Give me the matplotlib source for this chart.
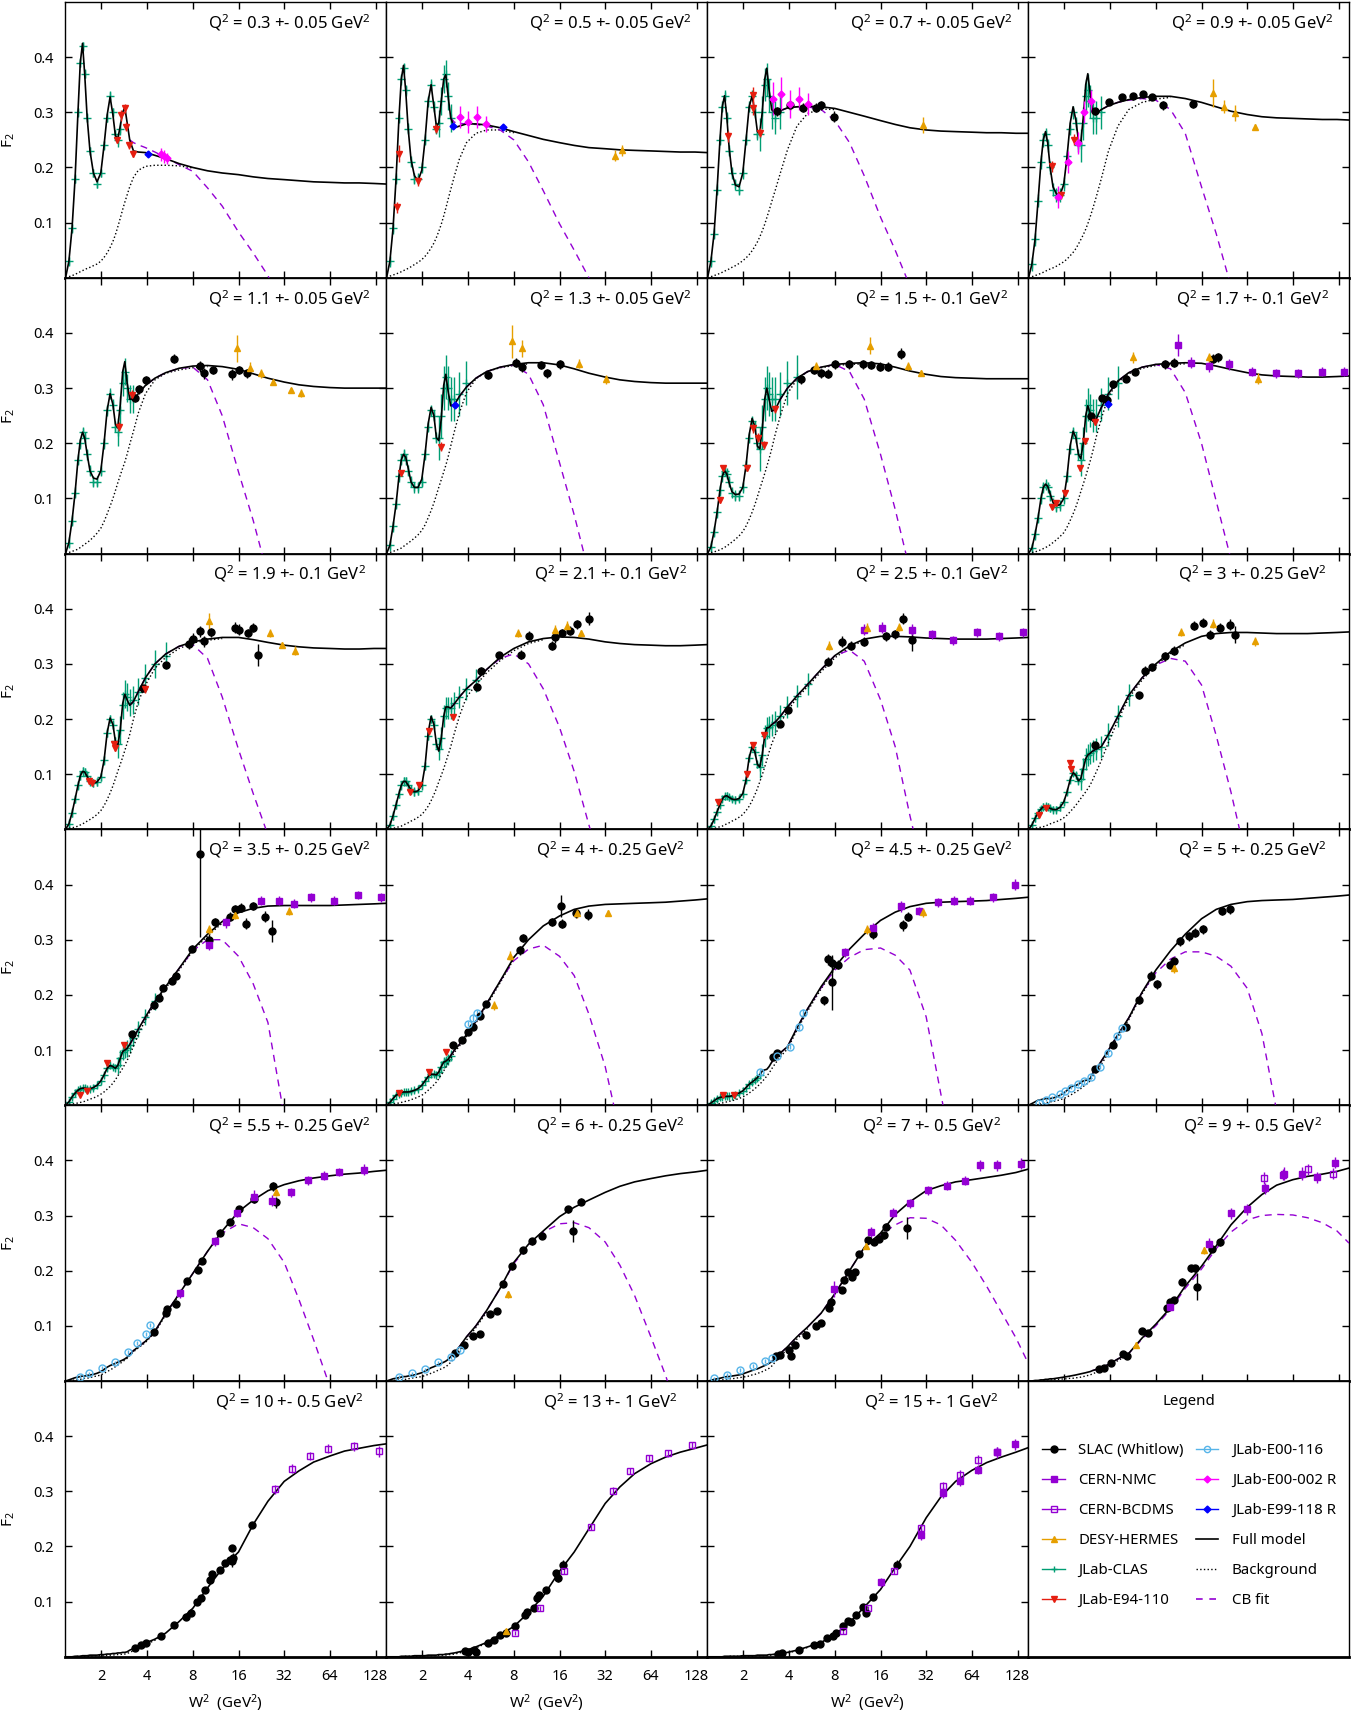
import matplotlib
matplotlib.use("Agg")
import matplotlib.pyplot as plt
from matplotlib.lines import Line2D
from matplotlib.ticker import NullLocator

plt.rcParams['font.family'] = ['Noto Sans', 'DejaVu Sans']
plt.rcParams['mathtext.fontset'] = 'custom'
plt.rcParams['mathtext.rm'] = 'Noto Sans'
plt.rcParams['mathtext.it'] = 'Noto Sans:italic'

# ---------------------------------------------------------------- data
q2_labels = ["0.3 +- 0.05", "0.5 +- 0.05", "0.7 +- 0.05", "0.9 +- 0.05",
             "1.1 +- 0.05", "1.3 +- 0.05", "1.5 +- 0.1", "1.7 +- 0.1",
             "1.9 +- 0.1", "2.1 +- 0.1", "2.5 +- 0.1", "3 +- 0.25",
             "3.5 +- 0.25", "4 +- 0.25", "4.5 +- 0.25", "5 +- 0.25",
             "5.5 +- 0.25", "6 +- 0.25", "7 +- 0.5", "9 +- 0.5",
             "10 +- 0.5", "13 +- 1", "15 +- 1"]

w2_grid = [1.16, 1.22, 1.28, 1.34, 1.40, 1.45, 1.50, 1.55, 1.61, 1.68, 1.77, 1.87,
           1.98, 2.08, 2.18, 2.28, 2.38, 2.47, 2.56, 2.66, 2.76, 2.85, 2.95, 3.07,
           3.25, 3.5, 3.9, 4.5, 5.3, 6.5, 8, 10, 12.5, 16, 20, 25, 32, 40, 50,
           64, 80, 100, 125, 150]

# full model F2 on w2_grid, one row per panel
model_f2 = [
    [0, .030, .090, .180, .300, .390, .425, .370, .290, .230, .190, .174, .190, .240, .295, .328, .295, .258, .252, .275, .300, .309, .282, .250, .230, .228, .227, .222, .216, .207, .200, .194, .190, .187, .183, .180, .178, .176, .174, .173, .172, .172, .171, .170],
    [0, .030, .090, .180, .290, .360, .385, .340, .270, .215, .185, .176, .195, .250, .320, .350, .310, .275, .280, .320, .360, .368, .330, .290, .272, .275, .279, .279, .277, .272, .265, .258, .251, .245, .240, .236, .234, .232, .231, .230, .229, .228, .228, .227],
    [0, .030, .080, .160, .250, .310, .330, .295, .235, .190, .168, .165, .190, .250, .310, .330, .300, .265, .262, .300, .360, .380, .340, .305, .298, .303, .308, .310, .311, .310, .307, .300, .293, .285, .278, .272, .268, .266, .265, .264, .263, .263, .262, .262],
    [0, .025, .070, .140, .210, .250, .265, .245, .200, .165, .152, .150, .170, .220, .280, .310, .285, .250, .245, .290, .350, .370, .335, .300, .298, .305, .312, .318, .323, .327, .329, .329, .325, .318, .310, .302, .296, .292, .290, .289, .288, .287, .287, .286],
    [0, .020, .060, .110, .170, .205, .220, .210, .180, .150, .137, .135, .150, .200, .260, .290, .270, .235, .228, .270, .330, .348, .310, .280, .280, .290, .305, .318, .328, .336, .340, .341, .339, .334, .326, .318, .311, .306, .303, .301, .300, .300, .300, .300],
    [0, .015, .050, .090, .140, .170, .180, .175, .155, .130, .120, .120, .135, .180, .235, .265, .250, .210, .205, .245, .305, .325, .295, .268, .270, .285, .302, .318, .330, .338, .343, .346, .346, .342, .335, .327, .320, .315, .312, .310, .309, .309, .309, .309],
    [0, .012, .040, .075, .115, .140, .150, .145, .128, .112, .107, .108, .120, .160, .215, .245, .230, .195, .190, .225, .280, .300, .280, .258, .262, .280, .300, .318, .330, .338, .343, .345, .346, .344, .338, .331, .325, .321, .319, .318, .317, .317, .317, .317],
    [0, .010, .035, .065, .100, .120, .126, .122, .108, .093, .087, .089, .100, .140, .195, .222, .210, .180, .172, .200, .250, .268, .255, .240, .245, .265, .290, .313, .328, .338, .343, .345, .346, .345, .340, .334, .328, .324, .322, .321, .320, .320, .321, .322],
    [0, .010, .030, .055, .080, .097, .105, .104, .096, .087, .084, .086, .095, .125, .175, .202, .190, .160, .152, .180, .228, .245, .235, .225, .232, .250, .275, .300, .318, .332, .340, .345, .348, .348, .344, .339, .334, .331, .329, .328, .327, .327, .328, .328],
    [0, .008, .025, .045, .065, .080, .087, .087, .080, .072, .068, .070, .080, .115, .175, .205, .190, .155, .142, .165, .205, .222, .222, .220, .228, .240, .255, .270, .290, .312, .328, .340, .346, .349, .348, .345, .340, .337, .335, .334, .333, .333, .334, .335],
    [0, .006, .018, .032, .045, .055, .060, .061, .058, .055, .054, .056, .065, .090, .130, .150, .140, .118, .113, .135, .170, .184, .185, .190, .195, .205, .222, .242, .263, .290, .315, .333, .345, .350, .350, .349, .347, .346, .345, .345, .345, .346, .347, .348],
    [0, .008, .020, .030, .037, .041, .042, .041, .038, .036, .036, .040, .050, .068, .090, .103, .098, .088, .092, .110, .128, .135, .138, .142, .146, .150, .172, .205, .243, .275, .300, .322, .338, .350, .355, .357, .357, .356, .355, .355, .355, .356, .357, .358],
    [0, .006, .015, .022, .027, .030, .031, .031, .030, .030, .032, .036, .044, .055, .067, .072, .070, .067, .072, .085, .097, .100, .103, .110, .122, .138, .160, .188, .215, .248, .283, .310, .333, .349, .357, .361, .362, .362, .362, .362, .363, .364, .365, .366],
    [0, .005, .012, .018, .021, .023, .024, .024, .024, .025, .027, .030, .036, .044, .052, .056, .056, .055, .060, .070, .078, .080, .083, .090, .100, .110, .128, .152, .184, .225, .268, .300, .325, .343, .355, .361, .364, .365, .366, .367, .368, .370, .372, .374],
    [0, .004, .008, .012, .014, .015, .016, .016, .016, .017, .019, .022, .026, .032, .038, .042, .046, .050, .055, .062, .064, .065, .070, .078, .087, .095, .106, .140, .175, .215, .250, .283, .310, .335, .350, .360, .366, .368, .369, .370, .371, .373, .375, .377],
    [0, .003, .006, .009, .010, .011, .012, .012, .012, .013, .015, .018, .022, .027, .032, .035, .036, .038, .041, .044, .045, .046, .048, .058, .066, .080, .100, .128, .158, .205, .245, .280, .310, .338, .355, .364, .369, .371, .372, .373, .375, .377, .379, .381],
    [0, .002, .004, .006, .007, .008, .009, .009, .010, .011, .012, .014, .017, .021, .025, .028, .030, .032, .034, .036, .038, .040, .043, .048, .055, .062, .072, .090, .122, .158, .195, .235, .272, .307, .328, .345, .356, .363, .368, .372, .375, .377, .380, .382],
    [0, .002, .004, .005, .006, .007, .008, .008, .009, .010, .011, .013, .015, .018, .021, .024, .026, .028, .030, .032, .034, .036, .039, .044, .051, .062, .080, .100, .128, .168, .215, .248, .272, .298, .315, .328, .342, .353, .361, .367, .372, .376, .379, .382],
    [0, .001, .003, .004, .005, .006, .007, .008, .008, .009, .010, .011, .013, .015, .017, .019, .021, .022, .024, .026, .028, .030, .032, .035, .042, .050, .062, .080, .098, .123, .158, .200, .242, .268, .302, .325, .345, .354, .361, .365, .369, .373, .378, .384],
    [0, 0, .001, .001, .002, .002, .003, .003, .004, .004, .005, .006, .007, .008, .009, .010, .011, .012, .013, .014, .015, .016, .017, .019, .021, .024, .030, .040, .050, .078, .103, .133, .172, .208, .245, .283, .315, .338, .355, .365, .371, .375, .380, .386],
    [0, 0, 0, .001, .001, .001, .002, .002, .002, .003, .003, .003, .004, .004, .005, .005, .006, .006, .007, .007, .008, .008, .009, .012, .015, .018, .025, .032, .043, .064, .088, .125, .160, .190, .240, .282, .318, .337, .353, .364, .373, .378, .383, .386],
    [0, 0, 0, 0, 0, .001, .001, .001, .001, .001, .002, .002, .002, .002, .003, .003, .003, .003, .004, .004, .004, .005, .005, .006, .007, .009, .012, .018, .026, .040, .055, .080, .110, .155, .190, .232, .278, .308, .332, .350, .362, .371, .378, .384],
    [0, 0, 0, 0, 0, 0, .001, .001, .001, .001, .001, .001, .002, .002, .002, .002, .002, .003, .003, .003, .003, .003, .004, .004, .005, .006, .008, .012, .018, .026, .040, .062, .090, .122, .162, .200, .252, .290, .318, .338, .352, .362, .371, .379],
]

# background on w2_grid, up to where it runs under the full model
bkg_f2 = [
    [0, .002, .004, .006, .009, .011, .013, .015, .017, .019, .022, .025, .030, .037, .045, .055, .066, .078, .092, .108, .124, .137, .150, .165, .182, .195, .202, .204, .204, .203, .199],
    [0, .003, .005, .007, .009, .011, .013, .015, .017, .020, .024, .028, .033, .039, .046, .054, .063, .073, .084, .097, .112, .126, .142, .160, .185, .215, .245, .262, .268, .268, .263],
    [0, .002, .004, .006, .008, .010, .012, .014, .016, .019, .022, .026, .031, .036, .042, .049, .057, .065, .074, .085, .097, .109, .122, .138, .160, .190, .232, .275, .298, .306, .305],
    [0, .002, .004, .006, .008, .010, .012, .014, .016, .018, .021, .025, .029, .034, .040, .046, .053, .061, .069, .078, .088, .098, .110, .125, .148, .180, .230, .275, .305, .318, .324, .327],
    [0, .002, .004, .006, .008, .011, .014, .017, .020, .024, .030, .037, .046, .058, .072, .086, .100, .114, .128, .142, .155, .166, .180, .198, .222, .255, .290, .315, .327, .333, .337, .339],
    [0, .002, .004, .006, .008, .010, .013, .016, .019, .023, .028, .034, .042, .052, .065, .078, .092, .106, .120, .134, .148, .160, .175, .195, .222, .255, .292, .317, .330, .337, .341, .344],
    [0, .002, .003, .005, .007, .009, .011, .014, .017, .021, .026, .032, .040, .050, .062, .075, .089, .103, .117, .131, .145, .158, .172, .190, .218, .250, .290, .316, .330, .337, .341, .343, .344],
    [0, .002, .003, .005, .007, .009, .011, .013, .016, .020, .025, .031, .038, .048, .060, .072, .085, .098, .112, .126, .140, .153, .167, .185, .213, .245, .285, .311, .326, .336, .341, .343, .344],
    [0, .002, .003, .004, .006, .008, .010, .012, .015, .018, .022, .027, .034, .043, .054, .066, .079, .092, .105, .118, .131, .143, .156, .172, .200, .232, .262, .292, .312, .328, .338, .343, .346],
    [0, .001, .002, .003, .005, .006, .008, .010, .012, .015, .018, .022, .027, .034, .042, .052, .063, .074, .086, .098, .110, .122, .135, .150, .175, .205, .240, .262, .284, .306, .324, .337, .344],
    [0, .001, .002, .003, .005, .006, .008, .010, .012, .015, .018, .022, .027, .034, .042, .052, .063, .074, .086, .099, .113, .126, .140, .155, .172, .192, .215, .238, .259, .286, .311, .330, .343],
    [0, .001, .002, .003, .004, .005, .006, .008, .010, .012, .014, .017, .021, .026, .032, .038, .044, .050, .056, .062, .068, .074, .080, .090, .105, .125, .158, .198, .238, .271, .297, .319, .335],
    [0, .001, .002, .003, .004, .005, .006, .007, .009, .011, .013, .016, .020, .024, .029, .034, .040, .046, .053, .060, .067, .074, .081, .091, .107, .128, .155, .185, .212, .245, .280, .307, .330],
    [0, .001, .002, .003, .004, .005, .006, .007, .008, .010, .012, .015, .018, .022, .027, .032, .037, .042, .048, .055, .062, .069, .076, .085, .096, .107, .125, .149, .181, .222, .265],
    [0, .001, .001, .002, .003, .004, .005, .006, .007, .008, .010, .012, .015, .018, .022, .026, .030, .034, .038, .043, .048, .053, .058, .066, .076, .088, .102, .136, .171, .211, .247],
    [0, .001, .001, .002, .003, .003, .004, .005, .006, .007, .008, .010, .012, .015, .018, .021, .024, .027, .030, .034, .037, .040, .044, .052, .060, .074, .095, .124, .155, .202, .242],
    [0, .001, .001, .002, .003, .003, .004, .005, .005, .006, .008, .009, .011, .014, .017, .020, .023, .026, .029, .032, .035, .038, .041, .046, .053, .060, .070, .088, .120, .156],
    [0, 0, .001, .001, .002, .002, .003, .003, .004, .005, .006, .007, .008, .010, .012, .014, .016, .018, .020, .022, .024, .026, .029, .034, .042, .055, .074, .097, .125],
    [0, 0, .001, .001, .002, .002, .003, .003, .004, .004, .005, .006, .007, .008, .009, .011, .012, .014, .015, .017, .019, .021, .023, .027, .035, .045, .058, .076, .095],
    [0, 0, 0, .001, .001, .001, .001, .002, .002, .002, .003, .003, .004, .004, .005, .005, .006, .006, .007, .008, .009, .010, .011, .013, .016, .020, .027, .037, .048],
    [0, 0, 0, 0, .001, .001, .001, .001, .001, .001, .002, .002, .002, .002, .003, .003, .003, .004, .004, .004, .005, .005, .006, .008, .011, .015, .022, .030, .042],
    [0, 0, 0, 0, 0, 0, 0, .001, .001, .001, .001, .001, .001, .002, .002, .002, .002, .002, .003, .003, .003, .003, .004, .004, .005, .007, .010, .016, .025],
    [0, 0, 0, 0, 0, 0, 0, 0, .001, .001, .001, .001, .001, .001, .001, .001, .002, .002, .002, .002, .002, .002, .003, .003, .004, .005, .007, .011, .017],
]

# CB fit on w2_grid from W^2 = 3.07 onward (ends where it leaves the frame)
cb_first = 23
cb_f2 = [
    [.250, .245, .241, .236, .228, .218, .205, .193, .163, .130, .083, .045, .004, -.06],
    [.290, .282, .280, .279, .278, .275, .268, .250, .210, .158, .098, .050, .000, -.07],
    [.305, .300, .303, .308, .310, .310, .305, .285, .245, .185, .110, .050, -.015],
    [.300, .298, .305, .312, .318, .322, .325, .322, .305, .262, .165, .080, -.015],
    [.280, .280, .290, .305, .318, .328, .336, .338, .315, .250, .148, .060, -.04],
    [.268, .270, .285, .302, .318, .330, .338, .342, .325, .270, .165, .070, -.035],
    [.258, .262, .280, .300, .318, .330, .338, .343, .330, .280, .180, .080, -.030],
    [.240, .245, .265, .290, .313, .328, .338, .343, .335, .292, .200, .095, -.010],
    [.225, .232, .250, .275, .300, .318, .332, .335, .310, .240, .145, .065, -.010],
    [.220, .228, .240, .255, .270, .290, .310, .318, .300, .255, .185, .105, .008, -.09],
    [.190, .195, .205, .222, .242, .263, .290, .315, .325, .305, .235, .150, .025, -.10],
    [.142, .146, .150, .172, .205, .243, .275, .298, .310, .305, .262, .170, .068, -.06],
    [.110, .122, .138, .160, .188, .215, .248, .280, .300, .300, .270, .220, .150, -.02],
    [.090, .100, .110, .128, .152, .184, .225, .262, .283, .290, .270, .235, .165, .070, -.05],
    [.078, .087, .095, .106, .140, .175, .213, .245, .268, .282, .285, .272, .245, .160, .020, -.12],
    [.058, .066, .080, .100, .128, .158, .205, .240, .265, .278, .278, .270, .252, .212, .130, -.010],
    [.048, .055, .062, .072, .090, .122, .158, .195, .235, .268, .285, .278, .258, .215, .148, .075, -.010],
    [.044, .051, .062, .080, .100, .128, .168, .213, .245, .270, .285, .287, .278, .252, .210, .155, .080, .010, -.07],
    [.035, .042, .050, .062, .080, .098, .123, .158, .200, .242, .265, .283, .296, .295, .283, .255, .215, .172, .125, .078, .033],
    [.019, .021, .024, .030, .040, .050, .076, .100, .130, .168, .203, .240, .270, .292, .300, .302, .301, .296, .287, .272, .250],
    [], [], [],
]

# JLab-CLAS F2 on w2_grid[1:]; errors below / above W^2 = 2.5
clas_f2 = [
    [.03, .09, .18, .30, .39, .42, .37, .29, .23, .19, .17, .19, .24, .29, .33, .30, .26, .25, .27],
    [.03, .09, .18, .29, .36, .38, .34, .27, .21, .18, .18, .20, .25, .32, .35, .31, .27, .28, .32, .36, .37, .33, .29],
    [.03, .08, .16, .25, .31, .33, .29, .23, .19, .17, .16, .19, .25, .31, .33, .30, .26, .26, .30, .35, .36, .33, .30, .29, .30],
    [.025, .07, .14, .21, .25, .26, .24, .20, .16, .15, .15, .17, .22, .27, .30, .28, .24, .24, .28, .33, .34, .32, .29, .29, .30],
    [.02, .06, .11, .17, .20, .22, .21, .18, .15, .13, .13, .15, .20, .26, .29, .27, .23, .22, .26, .31, .33, .30, .28, .28],
    [.015, .05, .09, .14, .17, .18, .17, .15, .13, .12, .12, .13, .18, .23, .26, .25, .21, .21, .25, .30, .32, .30, .28, .28, .29, .31],
    [.012, .04, .075, .115, .14, .15, .145, .13, .11, .105, .105, .12, .16, .21, .24, .23, .20, .19, .23, .28, .30, .29, .28, .28, .29, .31, .32],
    [.01, .035, .065, .10, .12, .125, .12, .105, .09, .085, .088, .10, .14, .19, .22, .21, .18, .17, .20, .25, .27, .26, .25, .25, .27, .29, .31],
    [.01, .03, .055, .08, .097, .105, .104, .096, .087, .084, .086, .095, .125, .175, .20, .19, .16, .155, .18, .225, .245, .24, .23, .235, .25, .275, .30, .315],
    [.008, .025, .045, .065, .08, .087, .087, .08, .072, .068, .07, .08, .115, .17, .20, .19, .155, .145, .165, .205, .22, .22, .22, .23, .24, .255, .27],
    [.006, .018, .032, .045, .055, .06, .061, .058, .055, .054, .056, .065, .09, .13, .15, .14, .118, .113, .135, .17, .184, .185, .19, .195, .205, .222, .242, .263],
    [.008, .02, .03, .037, .041, .042, .041, .038, .036, .036, .04, .05, .068, .09, .103, .098, .088, .092, .11, .128, .135, .138, .142, .146, .15, .172, .205, .243],
    [.006, .015, .022, .027, .03, .031, .031, .03, .03, .032, .036, .044, .055, .067, .072, .07, .067, .072, .085, .097, .1, .103, .11, .122, .138, .16, .188],
    [.005, .012, .018, .021, .023, .024, .024, .024, .025, .027, .03, .036, .044, .052, .056, .056, .055, .06, .07, .078, .08, .083, .09],
    [.004, .008, .012, .014, .015, .016, .016, .016, .017, .019, .022, .026, .032, .038, .042, .046, .05, .055],
    [], [], [], [], [], [], [], [],
]
clas_err_lo = [.008, .010, .010, .012, .010, .010, .010, .010, .008, .008, .006, .006,
               .005, .004, .003, 0, 0, 0, 0, 0, 0, 0, 0]
clas_err_hi = [.012, .025, .030, .030, .025, .040, .040, .030, .025, .020, .020, .020,
               .015, .010, .005, 0, 0, 0, 0, 0, 0, 0, 0]

# other data sets: (W^2, F2, error) per panel
slac = [
    [], [],
    [(3.34, .302, .008), (4.07, .313, .008), (4.96, .308, .008), (6.04, .308, .008), (6.45, .313, .008), (7.87, .292, .01)],
    [(3.17, .302, .006), (3.91, .319, .006), (4.76, .328, .006), (5.66, .329, .006), (6.61, .333, .006), (7.56, .328, .006), (8.98, .313, .008), (14.1, .315, .008)],
    [(3.34, .282, .008), (3.56, .298, .008), (3.91, .314, .008), (6.04, .353, .008), (8.98, .34, .01), (9.47, .327, .01), (10.8, .333, .008), (14.4, .325, .01), (16.1, .333, .008), (18.3, .327, .008)],
    [(5.44, .324, .008), (8.29, .346, .008), (9.09, .338, .008), (12.0, .342, .008), (13.2, .327, .008), (16.1, .343, .008)],
    [(4.82, .316, .008), (5.81, .333, .008), (6.45, .327, .008), (7.18, .326, .008), (8.07, .343, .008), (9.85, .343, .008), (12.2, .343, .008), (13.9, .342, .008), (15.9, .339, .008), (17.8, .339, .008), (22.0, .362, .01)],
    [(3.0, .249, .006), (3.51, .282, .006), (3.8, .278, .006), (4.18, .307, .006), (5.09, .317, .006), (5.81, .33, .006), (9.2, .343, .008), (10.5, .346, .008), (19.1, .353, .008), (20.6, .356, .008)],
    [(3.75, .256, .006), (5.3, .298, .006), (7.56, .337, .01), (8.07, .346, .01), (8.98, .359, .01), (9.47, .341, .01), (10.5, .357, .008), (15.2, .366, .01), (16.1, .362, .01), (18.6, .356, .008), (19.8, .366, .008), (21.5, .317, .02)],
    [(4.58, .259, .006), (4.89, .288, .006), (6.36, .316, .006), (8.86, .317, .008), (10.1, .351, .008), (14.2, .333, .008), (15.0, .348, .01), (16.5, .356, .008), (18.8, .36, .008), (20.9, .372, .008), (25.1, .382, .012)],
    [(3.47, .191, .006), (3.91, .217, .006), (7.18, .304, .008), (8.98, .34, .01), (10.2, .333, .008), (12.5, .34, .008), (17.4, .35, .008), (19.8, .354, .008), (22.6, .382, .01), (25.8, .343, .02)],
    [(3.2, .153, .006), (6.2, .243, .006), (6.8, .288, .008), (7.56, .294, .006), (9.2, .314, .008), (10.5, .324, .008), (14.2, .369, .008), (16.3, .375, .008), (18.1, .353, .008), (21.2, .366, .008), (24.8, .371, .01), (26.5, .353, .015)],
    [(3.2, .129, .005), (4.46, .181, .006), (4.76, .194, .006), (5.09, .213, .006), (5.81, .226, .006), (6.2, .235, .006), (7.87, .284, .006), (8.98, .455, .15), (10.2, .30, .01), (11.2, .332, .008), (14.1, .342, .008), (15.2, .355, .008), (16.7, .358, .008), (17.8, .329, .01), (19.8, .361, .008), (23.9, .342, .01), (26.5, .316, .02)],
    [(3.2, .11, .005), (3.66, .119, .005), (4.01, .132, .005), (4.29, .142, .005), (4.76, .161, .005), (5.23, .184, .005), (8.74, .281, .008), (9.2, .303, .008), (14.2, .332, .008), (16.3, .361, .02), (16.7, .329, .008), (20.4, .348, .008), (24.5, .345, .01)],
    [(3.12, .087, .005), (3.34, .094, .005), (6.8, .19, .008), (7.18, .265, .01), (7.67, .258, .01), (7.67, .223, .05), (8.4, .255, .008), (14.2, .31, .008), (22.6, .326, .01), (24.2, .342, .008)],
    [(3.2, .065, .004), (4.2, .11, .005), (5.1, .142, .005), (6.2, .19, .006), (7.4, .235, .008), (8.1, .219, .008), (9.9, .255, .006), (10.5, .261, .006), (11.5, .297, .008), (13.3, .306, .008), (14.6, .313, .008), (16.3, .319, .008), (21.7, .352, .008), (24.8, .355, .008)],
    [(4.46, .088, .004), (5.3, .124, .004), (5.4, .13, .004), (6.2, .14, .005), (7.3, .182, .005), (8.6, .201, .005), (9.2, .217, .005), (12.0, .269, .006), (14.1, .288, .006), (16.0, .311, .006), (20.3, .33, .008), (27.2, .353, .008), (28.3, .324, .01)],
    [(3.29, .05, .004), (3.75, .066, .004), (4.29, .082, .004), (4.76, .085, .004), (5.58, .121, .005), (6.2, .127, .005), (6.8, .175, .005), (7.77, .208, .006), (9.2, .237, .006), (10.5, .253, .006), (12.3, .263, .006), (19.6, .272, .02), (18.3, .311, .006), (22.3, .325, .006)],
    [(3.27, .045, .003), (3.49, .048, .003), (3.97, .057, .003), (4.1, .045, .003), (4.37, .066, .004), (5.14, .084, .004), (6.04, .099, .004), (6.44, .105, .004), (7.32, .132, .005), (7.55, .144, .005), (8.9, .165, .005), (9.17, .183, .005), (9.78, .198, .005), (10.4, .189, .005), (10.9, .198, .005), (11.5, .231, .005), (13.3, .255, .006), (14.4, .252, .006), (15.7, .258, .006), (16.9, .264, .006), (17.5, .28, .006), (23.8, .277, .02)],
    [(3.4, .022, .003), (3.63, .023, .003), (4.05, .033, .003), (4.85, .049, .004), (5.17, .045, .004), (6.48, .09, .004), (7.14, .087, .004), (9.53, .132, .005), (9.85, .144, .005), (10.5, .147, .005), (11.9, .18, .006), (13.6, .204, .006), (14.5, .204, .006), (15.0, .171, .025), (18.8, .24, .006), (21.1, .252, .008)],
    [(3.33, .016, .003), (3.67, .022, .003), (3.95, .025, .003), (4.96, .037, .003), (6.05, .058, .004), (7.2, .072, .004), (7.75, .08, .004), (8.56, .099, .004), (9.0, .106, .004), (9.65, .121, .005), (10.4, .14, .005), (10.7, .15, .005), (12.0, .158, .005), (13.0, .17, .005), (14.1, .176, .005), (14.4, .197, .006), (14.4, .173, .01), (14.8, .179, .01), (19.5, .239, .006)],
    [(3.8, .011, .003), (4.0, .009, .003), (4.4, .013, .003), (4.5, .008, .003), (5.37, .025, .003), (5.9, .031, .003), (6.5, .04, .003), (7.1, .043, .003), (8.1, .055, .004), (9.5, .076, .004), (9.8, .082, .004), (10.8, .088, .004), (11.3, .106, .005), (11.7, .112, .005), (13.1, .121, .005), (15.2, .152, .005), (15.6, .143, .008), (16.8, .167, .008)],
    [(3.36, .005, .003), (3.6, .006, .003), (4.67, .013, .003), (5.8, .022, .003), (6.4, .023, .003), (7.1, .034, .003), (7.8, .037, .003), (8.2, .043, .004), (9.1, .055, .004), (9.75, .065, .004), (10.2, .063, .004), (11.1, .075, .004), (12.2, .091, .005), (12.9, .079, .005), (14.2, .109, .005), (20.6, .167, .008)],
]

nmc = [[]] * 7 + [
    [(11.2, .379, .02), (13.7, .346, .01), (17.8, .34, .01), (24.2, .343, .01), (34.5, .33, .008), (49.3, .327, .008), (69.5, .327, .008), (99.3, .33, .008), (138, .33, .008)],
    [], [],
    [(12.5, .362, .01), (16.3, .366, .01), (25.8, .362, .01), (35, .354, .008), (48, .343, .008), (69.5, .357, .008), (96.6, .35, .008), (138, .357, .008)],
    [],
    [(10.2, .29, .008), (13.3, .332, .01), (22.6, .371, .008), (29.5, .371, .008), (36.9, .365, .008), (48, .377, .008), (68.6, .371, .008), (98, .381, .008), (138, .377, .008)],
    [],
    [(9.3, .277, .008), (14.2, .322, .008), (22, .361, .01), (28.7, .352, .008), (38.4, .368, .008), (48.7, .371, .008), (62.5, .371, .008), (88, .377, .008), (122.6, .40, .01)],
    [],
    [(6.6, .159, .008), (11.2, .253, .008), (15.6, .305, .008), (20.3, .334, .012), (26.5, .327, .01), (35.4, .342, .008), (46.2, .364, .008), (58.5, .372, .008), (74, .379, .008), (107, .383, .01)],
    [],
    [(7.96, .167, .015), (13.9, .27, .01), (19.2, .305, .008), (24.9, .322, .008), (32.8, .346, .008), (43.9, .354, .008), (57.5, .363, .008), (72, .391, .01), (94, .391, .01), (135, .394, .01)],
    [(9.85, .135, .008), (17.8, .249, .01), (25.1, .304, .01), (32, .311, .01), (42, .349, .01), (56, .376, .012), (73.5, .376, .012), (92, .369, .01), (121, .396, .01)],
    [], [],
    [(16.2, .135, .008), (29.4, .221, .01), (41.2, .297, .01), (53.3, .318, .008), (70.6, .339, .008), (94, .371, .01), (123, .385, .01)],
]

bcdms = [[]] * 19 + [
    [(41, .368, .01), (55.3, .374, .01), (80, .384, .01), (117, .376, .01)],
    [(27.7, .304, .008), (36.2, .341, .008), (47.3, .364, .008), (62.5, .377, .008), (93, .382, .008), (135, .373, .01)],
    [(8.1, .043, .004), (11.9, .088, .005), (17.2, .156, .006), (25.9, .235, .006), (36.2, .301, .006), (46.9, .337, .006), (62, .36, .006), (82.6, .369, .006), (120, .384, .006)],
    [(9.1, .046, .004), (13.3, .088, .005), (19.5, .156, .006), (29.4, .233, .008), (41.2, .309, .008), (53.3, .33, .008), (70.6, .357, .008), (94, .372, .008)],
]

hermes = [
    [],
    [(36.9, .221, .01), (41.5, .231, .01)],
    [(30.3, .277, .015)],
    [(19.1, .335, .025), (22.6, .31, .012), (26.5, .299, .015), (36, .273, .005)],
    [(15.6, .372, .025), (19.1, .337, .01), (22.6, .327, .008), (27.2, .311, .006), (35.4, .296, .005), (41, .291, .008)],
    [(7.77, .385, .03), (9.09, .372, .015), (21.5, .344, .008), (32.3, .316, .008)],
    [(6.04, .34, .008), (13.7, .377, .015), (24.2, .34, .008), (29.5, .327, .005)],
    [(5.66, .356, .01), (17.8, .356, .008), (37.9, .317, .01)],
    [(10.2, .377, .015), (25.8, .356, .008), (31.1, .335, .005), (37.9, .324, .008)],
    [(8.52, .356, .008), (15.0, .362, .008), (17.8, .369, .008), (22.3, .356, .005)],
    [(7.36, .333, .008), (13.0, .366, .008), (21.2, .367, .008)],
    [(11.7, .358, .008), (19.1, .373, .008), (36, .341, .008)],
    [(10.2, .319, .008), (15.2, .345, .008), (34.5, .352, .008)],
    [(5.96, .181, .008), (7.56, .271, .008), (20.9, .348, .008), (33.6, .348, .005)],
    [(13.0, .319, .008), (30.7, .35, .008)],
    [(10.6, .248, .008)],
    [(28.3, .342, .006)],
    [(7.27, .157, .006)],
    [(12.9, .245, .006)],
    [(5.88, .066, .004), (16.5, .237, .006)],
    [],
    [(7.1, .047, .004)],
    [],
]

e94_110 = [
    [(2.53, .25, .006), (2.67, .295, .01), (2.85, .307, .008), (2.9, .274, .008), (3.03, .24, .006), (3.23, .225, .006)],
    [(1.36, .128, .01), (1.40, .225, .015), (1.87, .175, .008), (2.45, .27, .008)],
    [(1.57, .257, .01), (2.3, .331, .015), (2.3, .308, .012), (2.56, .263, .008)],
    [(1.66, .202, .01), (1.89, .15, .008), (2.3, .25, .01)],
    [(2.6, .23, .008), (3.2, .288, .008)],
    [(1.45, .146, .006), (2.64, .194, .008)],
    [(1.4, .097, .005), (1.47, .155, .005), (2.1, .155, .006), (2.3, .227, .008), (2.49, .21, .008), (2.74, .197, .008), (3.25, .262, .008)],
    [(1.66, .084, .004), (1.77, .091, .004), (2.02, .11, .005), (2.53, .155, .006), (2.74, .204, .006), (3.2, .239, .006)],
    [(1.66, .087, .004), (1.72, .085, .004), (2.41, .155, .006), (2.47, .148, .006), (3.9, .255, .008)],
    [(1.66, .068, .004), (1.89, .081, .004), (2.22, .178, .006), (3.17, .204, .006)],
    [(1.36, .049, .003), (2.1, .10, .005), (2.3, .153, .005), (2.74, .172, .005)],
    [(1.36, .026, .003), (1.5, .038, .003), (2.16, .12, .005), (2.2, .11, .005)],
    [(1.45, .019, .003), (1.61, .026, .003), (2.16, .077, .004), (2.81, .11, .005)],
    [(1.4, .023, .003), (2.22, .061, .004), (2.88, .097, .004)],
    [(1.47, .019, .003), (1.72, .019, .003)],
    [], [], [], [], [], [], [], [],
]

e00_116 = [[]] * 13 + [
    [(4.01, .148, .005), (4.29, .158, .005), (4.55, .168, .005)],
    [(2.56, .060, .005), (3.34, .09, .005), (4.07, .106, .005), (4.64, .142, .006), (4.96, .168, .006)],
    [(1.36, .004, .003), (1.5, .01, .003), (1.66, .014, .003), (1.87, .02, .003), (2.02, .025, .003), (2.2, .032, .003), (2.46, .038, .004), (2.7, .043, .004), (3.0, .052, .004), (3.43, .07, .004), (3.9, .095, .005), (4.46, .125, .005), (4.76, .14, .005)],
    [(1.45, .008, .003), (1.66, .014, .003), (2.02, .024, .003), (2.46, .034, .003), (3.0, .053, .004), (3.43, .069, .004), (3.91, .085, .004), (4.18, .101, .004)],
    [(1.4, .008, .003), (1.7, .014, .003), (2.07, .021, .003), (2.53, .034, .003), (3.08, .043, .004), (3.52, .056, .004)],
    [(1.28, .005, .003), (1.56, .011, .003), (1.9, .02, .003), (2.3, .027, .003), (2.79, .036, .004), (3.07, .042, .004)],
    [], [], [], [],
]

e00_002 = [
    [(4.9, .224, .012), (5.15, .22, .012), (5.4, .217, .01)],
    [(3.52, .292, .02), (4.01, .283, .02), (4.58, .292, .02), (5.23, .279, .015)],
    [(3.12, .325, .03), (3.56, .334, .03), (4.07, .315, .025), (4.64, .325, .02), (5.3, .315, .02)],
    [(1.81, .147, .02), (2.1, .21, .02), (2.45, .245, .02), (2.7, .30, .02), (3.0, .32, .02)],
] + [[]] * 19

e99_118 = [
    [(4.04, .225, .004)],
    [(3.2, .276, .005), (6.8, .273, .004)],
    [], [], [],
    [(3.29, .269, .005)],
    [],
    [(3.9, .272, .005)],
] + [[]] * 15

x_ticks = [2, 4, 8, 16, 32, 64, 128]
y_ticks = [0.1, 0.2, 0.3, 0.4]

# ---------------------------------------------------------------- style
C_NMC = '#9400d3'
C_HERMES = '#e69f00'
C_CLAS = '#009e73'
C_E94 = '#e51e10'
C_E116 = '#56b4e9'
C_E002 = '#ff00ff'
C_E99 = '#0000ff'
C_CB = '#9400d3'

styles = [
    # data, marker, color, face, size
    (slac, 'o', 'black', 'black', 5.0),
    (nmc, 's', C_NMC, C_NMC, 5.0),
    (bcdms, 's', C_NMC, 'none', 5.0),
    (hermes, '^', C_HERMES, C_HERMES, 4.5),
    (e94_110, 'v', C_E94, C_E94, 5.0),
    (e00_116, 'o', C_E116, 'none', 5.0),
    (e00_002, 'D', C_E002, C_E002, 3.5),
    (e99_118, 'D', C_E99, C_E99, 3.5),
]


def draw_set(ax, pts, marker, color, face, size):
    if not pts:
        return
    w2 = [p[0] for p in pts]
    f2 = [p[1] for p in pts]
    er = [p[2] for p in pts]
    ax.errorbar(w2, f2, yerr=er, fmt=marker, color=color, mfc=face, mec=color,
                ms=size, mew=1.0, elinewidth=1.0, capsize=0, zorder=5)


fig = plt.figure(figsize=(13.67, 17.25), dpi=100)
FW, FH = 1367.0, 1725.0
X0, PW = 65.0, 321.0
Y0, PH = 2.0, 275.8


def panel_axes(r, c):
    return fig.add_axes([(X0 + c * PW) / FW, 1 - (Y0 + (r + 1) * PH) / FH, PW / FW, PH / FH])


for i in range(23):
    r, c = divmod(i, 4)
    ax = panel_axes(r, c)
    ax.set_xscale('log', base=2)
    ax.set_xlim(1.15, 150)
    ax.set_ylim(0, 0.5)

    # CLAS band first, then curves, then the other data sets
    n = len(clas_f2[i])
    if n:
        cw = w2_grid[1:1 + n]
        ce = [clas_err_lo[i] if w < 2.5 else clas_err_hi[i] for w in cw]
        ax.errorbar(cw, clas_f2[i], yerr=ce, fmt='+', color=C_CLAS,
                    ms=6, mew=1.0, elinewidth=1.0, capsize=0, zorder=2)
    ax.plot(w2_grid[:len(bkg_f2[i])], bkg_f2[i], color='black', ls=':', lw=1.0, zorder=3)
    if cb_f2[i]:
        ax.plot(w2_grid[cb_first:cb_first + len(cb_f2[i])], cb_f2[i], color=C_CB,
                ls=(0, (5, 4)), lw=1.0, zorder=3)
    ax.plot(w2_grid, model_f2[i], color='black', lw=1.2, zorder=4)
    for data, marker, color, face, size in styles:
        draw_set(ax, data[i], marker, color, face, size)

    ax.text(0.70, 0.905, 'Q$^{2}$ = ' + q2_labels[i] + ' GeV$^{2}$', transform=ax.transAxes,
            ha='center', va='baseline', fontsize=12)

    ax.set_xticks(x_ticks)
    ax.xaxis.set_minor_locator(NullLocator())
    ax.set_yticks(y_ticks)
    ax.tick_params(which='both', direction='in', top=True, right=True, length=5,
                   width=1.0, labelsize=10.5)
    ax.tick_params(axis='x', pad=9)
    ax.tick_params(axis='y', pad=8)
    if r == 5:
        ax.set_xticklabels([str(t) for t in x_ticks])
        ax.set_xlabel('W$^{2}$  (GeV$^{2}$)', fontsize=11, labelpad=6)
    else:
        ax.set_xticklabels([])
    if c == 0:
        ax.set_yticklabels(['0.1', '0.2', '0.3', '0.4'])
        ax.set_ylabel('F$_{2}$', fontsize=11, labelpad=12)
    else:
        ax.set_yticklabels([])
    for side in ['left', 'right', 'top']:
        ax.spines[side].set_linewidth(1.0)
    ax.spines['bottom'].set_linewidth(2.0)

# legend panel
axl = panel_axes(5, 3)
axl.set_xticks([])
axl.set_yticks([])
for side in ['left', 'right', 'top']:
    axl.spines[side].set_linewidth(1.0)
axl.spines['bottom'].set_linewidth(2.0)
axl.text(0.5, 0.925, 'Legend', transform=axl.transAxes, ha='center', va='center', fontsize=10.8)


def handle(marker, color, face, size, ls='-'):
    return Line2D([], [], color=color, marker=marker, mfc=face, mec=color, ms=size, ls=ls, lw=1.0)


handles = [
    handle('o', 'black', 'black', 5),
    handle('s', C_NMC, C_NMC, 5),
    handle('s', C_NMC, 'none', 5),
    handle('^', C_HERMES, C_HERMES, 4.5),
    handle('+', C_CLAS, C_CLAS, 5),
    handle('v', C_E94, C_E94, 5),
    handle('o', C_E116, 'none', 4.5),
    handle('D', C_E002, C_E002, 3.5),
    handle('D', C_E99, C_E99, 3.5),
    Line2D([], [], color='black', lw=1.2),
    Line2D([], [], color='black', ls=':', lw=1.0),
    Line2D([], [], color=C_CB, ls=(0, (4, 4)), lw=1.2),
]
labels = ['SLAC (Whitlow)', 'CERN-NMC', 'CERN-BCDMS', 'DESY-HERMES', 'JLab-CLAS', 'JLab-E94-110',
          'JLab-E00-116', 'JLab-E00-002 R', 'JLab-E99-118 R', 'Full model', 'Background', 'CB fit']
axl.legend(handles, labels, ncol=2, loc='upper left', bbox_to_anchor=(0.045, 0.775),
           frameon=False, fontsize=10.8, numpoints=1, handlelength=1.5, handletextpad=0.9,
           columnspacing=0.8, labelspacing=1.0, borderpad=0, borderaxespad=0)

fig.savefig('out.png', dpi=100)
